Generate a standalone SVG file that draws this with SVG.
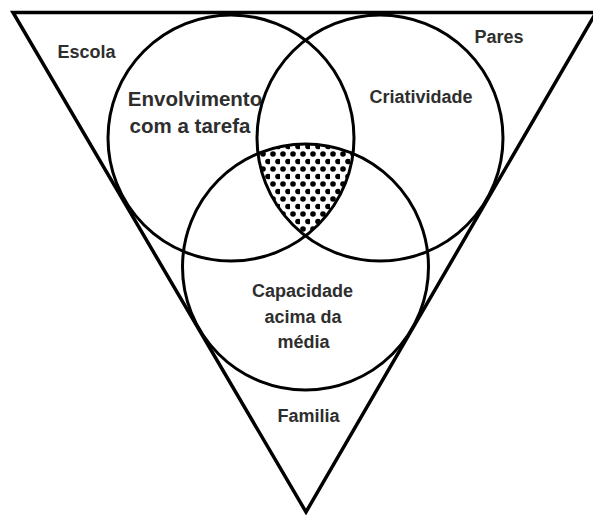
<svg xmlns="http://www.w3.org/2000/svg" width="593" height="515" viewBox="0 0 593 515">
<style>
.ln{fill:none;stroke:#000;stroke-width:3;stroke-linejoin:miter}
.tx{font-family:"Liberation Sans",Arial,sans-serif;font-weight:700;font-size:18px;fill:#2e2e2e;text-anchor:middle}
</style>
<defs>
<pattern id="dots" patternUnits="userSpaceOnUse" width="10" height="15" x="0" y="150">
<circle cx="3" cy="4" r="2.8" fill="#000"/>
<circle cx="8" cy="11.5" r="2.8" fill="#000"/>
</pattern>
</defs>
<rect width="593" height="515" fill="#fff"/>
<g id="labels">
<text class="tx" x="86.5" y="58" font-size="17">Escola</text>
<text class="tx" x="499" y="43" font-size="17">Pares</text>
<text class="tx" x="195" y="106" style="font-size:20.5px">Envolvimento</text>
<text class="tx" x="190" y="133" style="font-size:20.5px">com a tarefa</text>
<text class="tx" x="421" y="103">Criatividade</text>
<text class="tx" x="302.5" y="297">Capacidade</text>
<text class="tx" x="303" y="323">acima da</text>
<text class="tx" x="303.5" y="348">média</text>
<text class="tx" x="308.5" y="422">Familia</text>
</g>
<g id="overlap">
<path d="M258,153.5 A123,123 0 0 1 353,153.5 A123,123 0 0 1 305.5,235.9 A123,123 0 0 1 258,153.5 Z" fill="url(#dots)"/>
</g>
<g id="triangle">
<path class="ln" style="stroke-width:3.5" d="M13,12.5 L596,12.5 L306,512 Z"/>
</g>
<g id="circle-envolvimento"><circle class="ln" cx="231" cy="138" r="123"/></g>
<g id="circle-criatividade"><circle class="ln" cx="380" cy="138" r="123"/></g>
<g id="circle-capacidade"><circle class="ln" cx="305.5" cy="267" r="123"/></g>
<g id="connectors"></g>
</svg>
